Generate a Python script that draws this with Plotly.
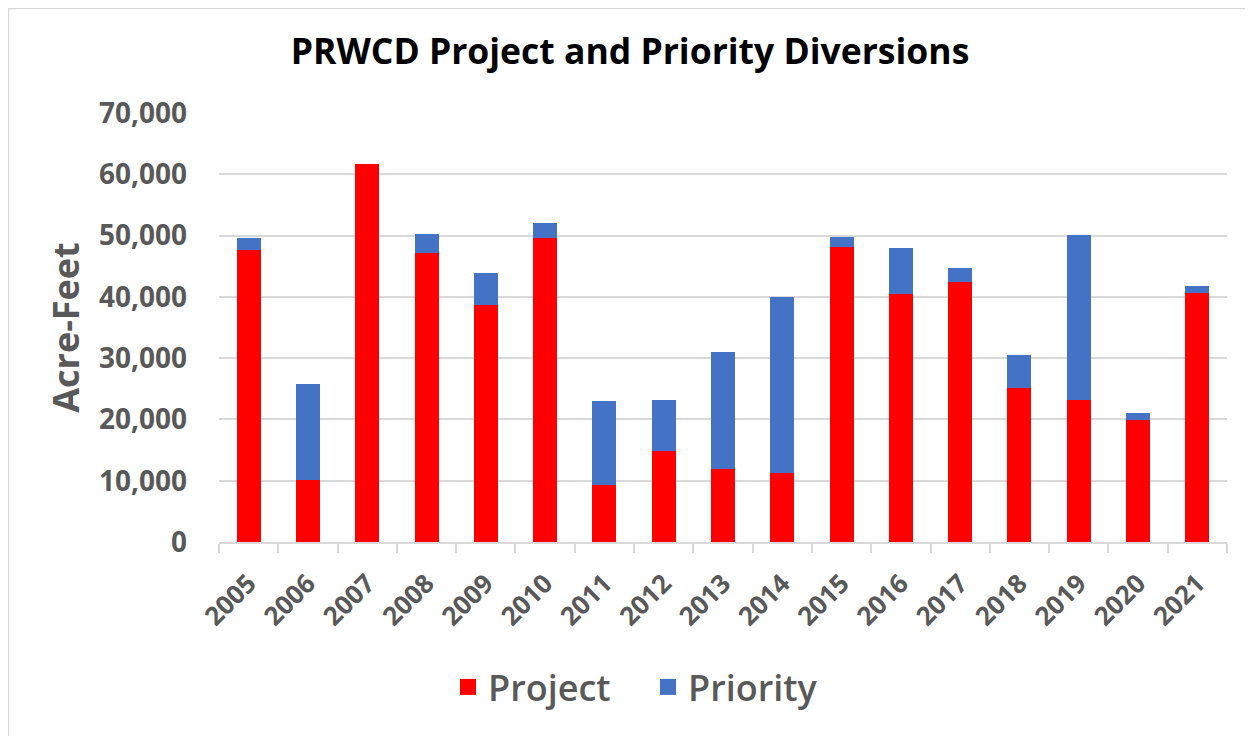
import plotly.graph_objects as go

years = ["2005", "2006", "2007", "2008", "2009", "2010", "2011", "2012", "2013",
         "2014", "2015", "2016", "2017", "2018", "2019", "2020", "2021"]
project = [47600, 10100, 61600, 47100, 38750, 49550, 9350, 14900, 11850,
           11300, 48100, 40400, 42500, 25200, 23100, 19950, 40700]
totals = [49650, 25750, 61600, 50250, 43900, 52000, 23000, 23100, 31050,
          40000, 49800, 48050, 44700, 30450, 50150, 21050, 41800]
priority = [t - p for t, p in zip(totals, project)]

y_ticks = [0, 10000, 20000, 30000, 40000, 50000, 60000, 70000]

FONT = "Open Sans, Lato, sans-serif"
GRAY = "#595959"
GRID = "#d9d9d9"
RED = "#ff0000"
BLUE = "#4472c4"

# page has an 8px body margin; work in screen coords minus 8
OFF = 8
W, H = 1253 - OFF, 736 - OFF
L, R, T, B = 219 - OFF, 1227 - OFF, 113 - OFF, 542 - OFF

def px_x(p):
    return (p - OFF - L) / (R - L)

def px_y(p):
    return (B - (p - OFF)) / (B - T)

fig = go.Figure()
fig.add_trace(go.Bar(x=years, y=project, name="Project", showlegend=False,
                     marker=dict(color=RED, line=dict(width=0))))
fig.add_trace(go.Bar(x=years, y=priority, name="Priority", showlegend=False,
                     marker=dict(color=BLUE, line=dict(width=0))))
# legend entries with larger square swatches
fig.add_trace(go.Scatter(x=[None], y=[None], mode="markers", name="Project",
                         marker=dict(symbol="square", size=22, color=RED)))
fig.add_trace(go.Scatter(x=[None], y=[None], mode="markers", name="Priority",
                         marker=dict(symbol="square", size=22, color=BLUE)))

fig.update_layout(
    width=W, height=H,
    barmode="stack",
    bargap=0.595,
    plot_bgcolor="white",
    paper_bgcolor="white",
    margin=dict(l=L, r=W - R, t=T, b=H - B, pad=0),
    title=dict(text="<b>PRWCD Project and Priority Diversions</b>",
               x=(630 - OFF) / W, xanchor="center", y=1 - (52 - OFF) / H, yanchor="middle",
               font=dict(family=FONT, size=35.5, color="#000000")),
    font=dict(family=FONT, color=GRAY),
    legend=dict(orientation="h", x=px_x(648), xanchor="center",
                y=px_y(687), yanchor="middle",
                font=dict(family=FONT, size=36, color=GRAY, weight=600),
                itemwidth=30, entrywidth=155, entrywidthmode="pixels",
                traceorder="normal"),
    showlegend=True,
)

fig.update_xaxes(
    type="category",
    tickangle=-45,
    tickfont=dict(family=FONT, size=26, color=GRAY, weight="bold"),
    showline=True, linecolor=GRID, linewidth=1.5,
    ticks="outside", tickson="boundaries", ticklen=9, tickcolor=GRID, tickwidth=1.5,
    ticklabelstandoff=14,
    showgrid=False,
)
fig.update_yaxes(
    range=[0, 70000],
    tickvals=y_ticks,
    tickformat=",d",
    tickfont=dict(family=FONT, size=28, color=GRAY, weight="bold"),
    showgrid=True, gridcolor=GRID, gridwidth=1.5,
    zeroline=False, showline=False,
    ticks="", ticklabelstandoff=31,
    title=dict(text="<b>Acre-Feet</b>", standoff=8,
               font=dict(family=FONT, size=36, color=GRAY)),
)

fig.add_shape(type="rect", xref="paper", yref="paper",
              x0=px_x(8.5), x1=px_x(1275), y0=px_y(760), y1=px_y(8.5),
              line=dict(color=GRID, width=1.5), fillcolor="rgba(0,0,0,0)",
              layer="below")

fig.write_html("out.html")
